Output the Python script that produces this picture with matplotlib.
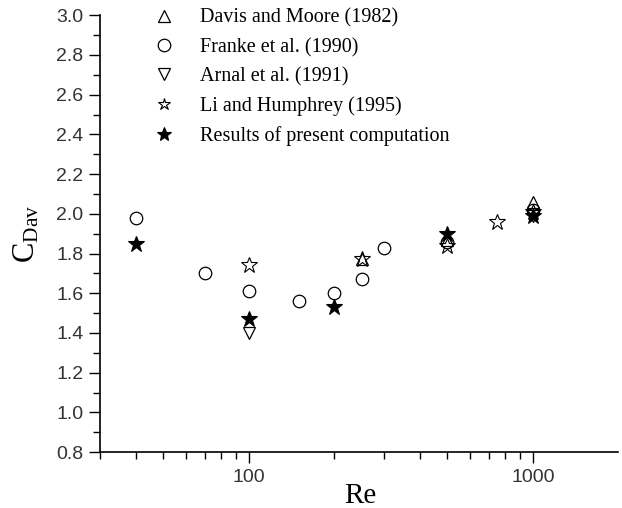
import numpy as np
import matplotlib
matplotlib.use('Agg')
from matplotlib import pyplot as plt
from matplotlib.ticker import MultipleLocator, FixedLocator, NullFormatter

plt.rcParams['mathtext.fontset'] = 'custom'
plt.rcParams['mathtext.rm'] = 'Liberation Serif'

# drag coefficient vs Reynolds number, one list pair per source
re_davis = [250, 500, 1000]
cd_davis = [1.77, 1.87, 2.06]
re_franke = [40, 70, 100, 150, 200, 250, 300, 500, 1000]
cd_franke = [1.98, 1.70, 1.61, 1.56, 1.60, 1.67, 1.83, 1.86, 2.02]
re_arnal = [100, 1000]
cd_arnal = [1.40, 1.99]
re_li = [100, 250, 500, 750, 1000]
cd_li = [1.74, 1.77, 1.84, 1.96, 2.01]
re_present = [40, 100, 200, 500, 1000]
cd_present = [1.85, 1.47, 1.53, 1.90, 1.99]

labels = ['Davis and Moore (1982)', 'Franke et al. (1990)', 'Arnal et al. (1991)',
          'Li and Humphrey (1995)', 'Results of present computation']

fig = plt.figure(figsize=(6.22, 5.08), dpi=100)
ax = fig.add_axes([0.161, 0.110, 0.833, 0.860])

ms = 9
ax.plot(re_davis, cd_davis, '^', ms=ms, mfc='none', mec='black', mew=0.9, label=labels[0])
ax.plot(re_franke, cd_franke, 'o', ms=ms, mfc='none', mec='black', mew=0.9, label=labels[1])
ax.plot(re_arnal, cd_arnal, 'v', ms=ms, mfc='none', mec='black', mew=0.9, label=labels[2])
ax.plot(re_li, cd_li, '*', ms=ms + 3, mfc='none', mec='black', mew=0.8, label=labels[3])
ax.plot(re_present, cd_present, '*', ms=ms + 3, mfc='black', mec='black', mew=0.8, label=labels[4])

ax.set_xscale('log')
ax.set_xlim(30, 2000)
ax.set_ylim(0.8, 3.0)
ax.set_xticks([100, 1000])
ax.set_xticklabels(['100', '1000'])
ax.xaxis.set_minor_locator(FixedLocator([30, 40, 50, 60, 70, 80, 90, 200, 300, 400, 500, 600, 700, 800, 900]))
ax.xaxis.set_minor_formatter(NullFormatter())
ax.yaxis.set_major_locator(MultipleLocator(0.2))
ax.yaxis.set_minor_locator(MultipleLocator(0.1))
ax.yaxis.set_major_formatter(plt.FuncFormatter(lambda v, p: '%.1f' % v))

for s in ['top', 'right']:
    ax.spines[s].set_visible(False)
for s in ['left', 'bottom']:
    ax.spines[s].set_linewidth(1.2)

ax.tick_params(which='major', direction='out', length=8, width=1.0,
               labelsize=14, labelcolor='#333333', pad=4)
ax.tick_params(which='minor', direction='out', length=5, width=1.0)
for t in ax.get_xticklabels() + ax.get_yticklabels():
    t.set_fontfamily('Liberation Sans')

fig.text(360 / 622, 1 - 503 / 508, 'Re', fontsize=21, fontfamily='Liberation Serif',
         ha='center', va='baseline')
ax.set_ylabel(r'$\mathrm{C_{Dav}}$', fontsize=22)
ax.yaxis.set_label_coords(-0.115, 0.5)

leg = ax.legend(loc='upper left', bbox_to_anchor=(0.069, 1.057), frameon=False,
                prop={'family': 'Liberation Serif', 'size': 14.5},
                handletextpad=1.3, labelspacing=0.5, handlelength=1.0)
# legend symbols: open shapes full size, stars a bit smaller
for h, size in zip(leg.legend_handles, [9, 9, 9, 9, 10]):
    h.set_markersize(size)

fig.savefig('out.png', dpi=100)
